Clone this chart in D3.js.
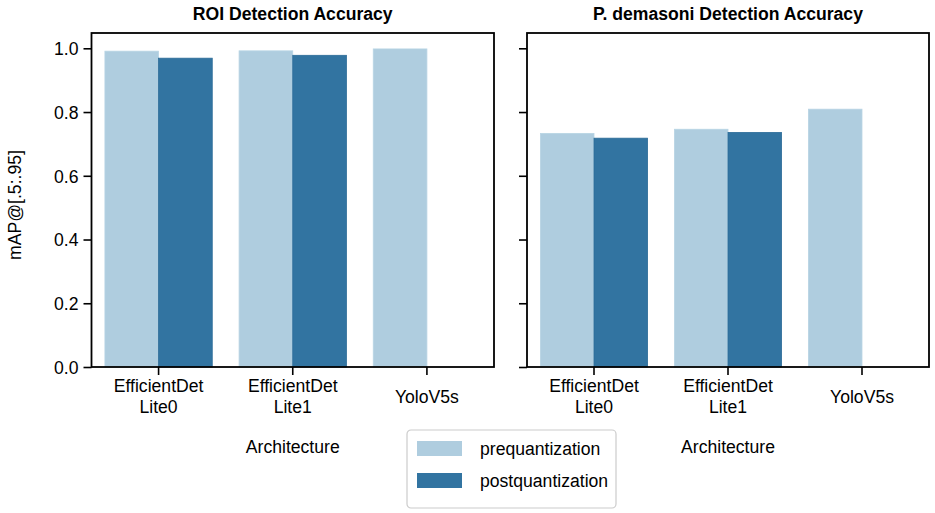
<!DOCTYPE html>
<html>
<head>
<meta charset="utf-8">
<script src="https://cdn.jsdelivr.net/npm/d3@7"></script>
<style>
  body { margin: 0; background: #fff; }
  svg { display: block; font-family: "Liberation Sans", Arial, sans-serif; }
  .tick text { font-size: 17.6px; fill: #000; }
</style>
</head>
<body>
<svg id="chart" width="935" height="513"></svg>
<script>
// data
const categories = ['EfficientDet\nLite0', 'EfficientDet\nLite1', 'YoloV5s'];
const series = ['prequantization', 'postquantization'];
const roiPre = [0.991, 0.992, 0.998];
const roiPost = [0.969, 0.978, null];
const demPre = [0.733, 0.746, 0.809];
const demPost = [0.718, 0.736, null];
const yTicks = [0, 0.2, 0.4, 0.6, 0.8, 1.0];
const colors = ['#afcddf', '#3274a1'];

const svg = d3.select('#chart');
const plotTop = 33, plotBottom = 367;

const y = d3.scaleLinear().domain([0, 1.048]).range([plotBottom, plotTop]);

function panel(x0, x1, title, pre, post, showLabels) {
  const g = svg.append('g');
  const x = d3.scaleBand().domain(categories).range([x0, x1]);
  const hue = d3.scaleBand().domain(series).range([x.bandwidth() * 0.1, x.bandwidth() * 0.9]);

  //BARS
  const rows = categories.map((c, i) => ({ c, vals: [pre[i], post[i]] }));
  rows.forEach((r) => {
    r.vals.forEach((v, j) => {
      if (v == null) return;
      g.append('rect')
        .attr('x', x(r.c) + hue(series[j]))
        .attr('y', y(v))
        .attr('width', hue.bandwidth())
        .attr('height', y(0) - y(v))
        .attr('fill', colors[j])
        .attr('stroke', j === 0 ? '#b8d4e4' : '#2c6c98')
        .attr('stroke-width', 0.8);
    });
  });

  //AXES
  const ya = g.append('g')
    .attr('transform', `translate(${x0},0)`)
    .call(d3.axisLeft(y).tickValues(yTicks).tickSize(8).tickPadding(5)
      .tickFormat(showLabels ? d3.format('.1f') : ''));
  ya.select('.domain').remove();
  ya.selectAll('.tick line').attr('stroke', '#000').attr('stroke-width', 1.6);
  ya.selectAll('.tick text').attr('dy', '0.36em');

  const xa = g.append('g')
    .attr('transform', `translate(0,${plotBottom})`)
    .call(d3.axisBottom(x).tickSize(8).tickPadding(4));
  xa.select('.domain').remove();
  xa.selectAll('.tick line').attr('stroke', '#000').attr('stroke-width', 1.6);
  xa.selectAll('.tick text').each(function (d) {
    const t = d3.select(this).text('').attr('dy', null);
    const lines = d.split('\n');
    if (lines.length === 1) {
      t.append('tspan').attr('x', 0).attr('y', 36).text(lines[0]);
    } else {
      lines.forEach((l, k) => t.append('tspan').attr('x', 0).attr('y', 25 + k * 21).text(l));
    }
  });

  //FRAME
  g.append('rect')
    .attr('x', x0).attr('y', plotTop)
    .attr('width', x1 - x0).attr('height', plotBottom - plotTop)
    .attr('fill', 'none').attr('stroke', '#000').attr('stroke-width', 1.8);

  //TITLES
  g.append('text')
    .attr('x', (x0 + x1) / 2).attr('y', 20)
    .attr('text-anchor', 'middle')
    .attr('font-size', '17.6px').attr('font-weight', 'bold')
    .text(title);
  g.append('text')
    .attr('x', (x0 + x1) / 2).attr('y', 453)
    .attr('text-anchor', 'middle')
    .attr('font-size', '17.6px')
    .text('Architecture');
}

panel(91.5, 494, 'ROI Detection Accuracy', roiPre, roiPost, true);
panel(527, 929, 'P. demasoni Detection Accuracy', demPre, demPost, false);

// y label
svg.append('text')
  .attr('transform', `translate(21,${(plotTop + plotBottom) / 2 + 5}) rotate(-90)`)
  .attr('text-anchor', 'middle')
  .attr('font-size', '17.6px')
  .text('mAP@[.5:.95]');

// legend
const lg = svg.append('g').attr('transform', 'translate(407,430)');
lg.append('rect')
  .attr('width', 209).attr('height', 78)
  .attr('rx', 4)
  .attr('fill', '#fff').attr('stroke', '#ccc').attr('stroke-width', 1.2);
series.forEach((s, i) => {
  lg.append('rect')
    .attr('x', 10).attr('y', 11 + i * 32)
    .attr('width', 45).attr('height', 15)
    .attr('fill', colors[i]);
  lg.append('text')
    .attr('x', 73).attr('y', 18.5 + i * 32)
    .attr('dy', '0.36em')
    .attr('font-size', '17.6px')
    .text(s);
});
</script>
</body>
</html>
